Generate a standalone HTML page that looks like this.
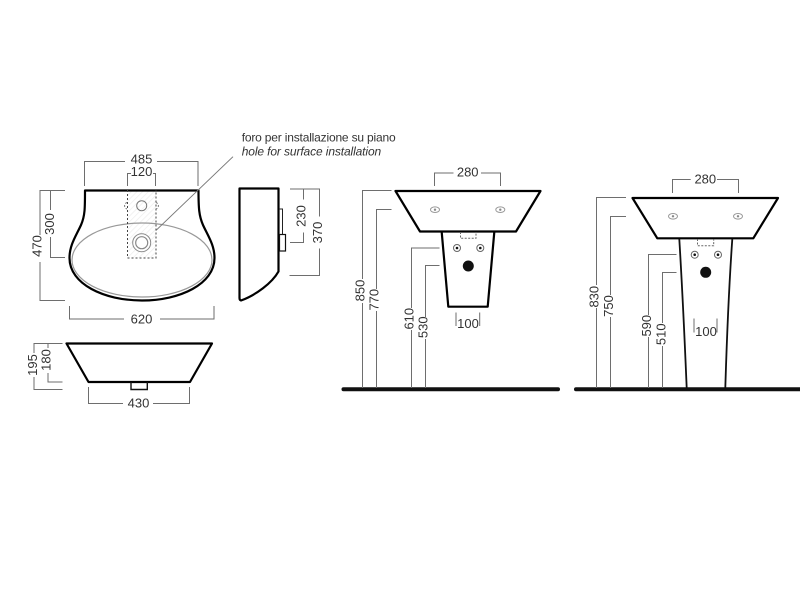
<!DOCTYPE html>
<html>
<head>
<meta charset="utf-8">
<style>
html,body{margin:0;padding:0;background:#fff;width:800px;height:600px;overflow:hidden}
svg{display:block;filter:blur(0.35px)}
text{font-family:"Liberation Sans",sans-serif;font-size:13px;fill:#333}
.n{font-size:12px}
.d{fill:none;stroke:#6e6e6e;stroke-width:1}
.k{fill:none;stroke:#000;stroke-width:2.2;stroke-linejoin:round;stroke-linecap:round}
.t{fill:none;stroke:#222;stroke-width:1}
.g{fill:none;stroke:#999;stroke-width:1}
.c{text-anchor:middle}
</style>
</head>
<body>
<svg width="800" height="600" viewBox="0 0 800 600" xmlns="http://www.w3.org/2000/svg">
<defs>
<pattern id="h" width="4" height="4" patternUnits="userSpaceOnUse" patternTransform="rotate(45)">
<line x1="0" y1="0" x2="0" y2="4" stroke="#ececec" stroke-width="1.4"/>
</pattern>
</defs>

<!-- top view -->
<rect x="127.5" y="190" width="28.5" height="68" fill="url(#h)"/>
<ellipse cx="142" cy="260" rx="70" ry="37" fill="none" stroke="#999" stroke-width="1.2"/>
<path class="k" d="M85 190.500H198.500C198.500 208 199 216 203 225C208 236 214.500 245 214.500 258C214.500 284 180 300.500 142 300.500C104 300.500 69.500 284 69.500 258C69.500 245 76 236 81 225C85 216 85 208 85 190.500Z"/>
<path d="M127.500 190V258H156V190" fill="none" stroke="#444" stroke-width="1" stroke-dasharray="2 2"/>
<circle cx="141.700" cy="205.700" r="5" fill="none" stroke="#777"/>
<circle cx="141.700" cy="242.700" r="9" fill="#fff" stroke="#888" stroke-width="1"/>
<circle cx="141.700" cy="242.700" r="6" fill="none" stroke="#888" stroke-width="1.200"/>
<path d="M127 202.500A3.400 3.400 0 0 0 127 209M156 202.500A3.400 3.400 0 0 1 156 209" fill="none" stroke="#777" stroke-dasharray="2 1.500"/>
<line x1="155.700" y1="230.700" x2="233" y2="156.700" stroke="#777" stroke-width="1"/>

<text x="241.700" y="141.500" textLength="154" lengthAdjust="spacing" class="n">foro per installazione su piano</text>
<text x="241.700" y="155.500" textLength="139.500" lengthAdjust="spacing" font-style="italic" class="n">hole for surface installation</text>

<path class="d" d="M84.500 186V161.500H125M157 161.500H198V186"/>
<path class="d" d="M127.500 186V173.500H131M153 173.500H155.500V186"/>
<text x="141.500" y="163.500" class="c">485</text>
<text x="141.500" y="176" class="c">120</text>

<path class="d" d="M65 190.500H40V235M40 262V300.500H65"/>
<path class="d" d="M65 190.500H50.500V210M50.500 237V257.500H65"/>
<text transform="translate(41.500 246) rotate(-90)" class="c">470</text>
<text transform="translate(54 224) rotate(-90)" class="c">300</text>

<path class="d" d="M69.500 306V319H124M160 319H214V306"/>
<text x="141.500" y="323.500" class="c">620</text>

<!-- front view small -->
<path class="k" d="M66.500 343.500H212L190 382H88.500Z"/>
<path d="M131 382V389.500H147.300V382" fill="none" stroke="#111" stroke-width="1.400"/>
<path class="d" d="M62.500 343.500H34V353M34 377V389.500H62.500"/>
<path class="d" d="M62.500 343.500H48V348M48 373V382H62.500"/>
<text transform="translate(37 365) rotate(-90)" class="c">195</text>
<text transform="translate(50.500 360) rotate(-90)" class="c">180</text>
<path class="d" d="M88.500 387V403.500H123M153 403.500H189.500V387"/>
<text x="138.500" y="407.500" class="c">430</text>

<!-- side view -->
<path class="k" d="M239.500 188.500H278.500V271.500C272 283 256 295 241 300.500Q239.500 300 239.500 298Z"/>
<path class="t" d="M279 209H282.500V234.500"/>
<rect x="279.500" y="234.500" width="6" height="16.500" fill="#fff" stroke="#111" stroke-width="1.200"/>
<path class="d" d="M290 189H319.500V216.500M319.500 248.500V275.500H289.500"/>
<path class="d" d="M303.500 189V199.500M303.500 232.500V242.500H290"/>
<text transform="translate(305.500 216) rotate(-90)" class="c">230</text>
<text transform="translate(322 232.500) rotate(-90)" class="c">370</text>

<!-- half pedestal -->
<path class="k" d="M395.500 191H540.500L516 231.500H420Z"/>
<path class="k" d="M441.700 232L448.300 306.700H487.700L494.300 232"/>
<path d="M460.500 232V238.300H476V232" fill="none" stroke="#666" stroke-dasharray="2 1.500"/>
<ellipse cx="435" cy="209.700" rx="4.500" ry="2.800" fill="none" stroke="#999"/>
<circle cx="435" cy="209.700" r="1.200" fill="#888"/>
<ellipse cx="500.300" cy="209.700" rx="4.500" ry="2.800" fill="none" stroke="#999"/>
<circle cx="500.300" cy="209.700" r="1.200" fill="#888"/>
<circle cx="457" cy="248" r="3.500" fill="#fff" stroke="#666"/><circle cx="457" cy="248" r="1.300" fill="#111"/>
<circle cx="480.300" cy="248" r="3.500" fill="#fff" stroke="#666"/><circle cx="480.300" cy="248" r="1.300" fill="#111"/>
<circle cx="468.300" cy="266" r="5.500" fill="#111"/>
<path d="M343.500 389.300H558" stroke="#111" stroke-width="4" stroke-linecap="round" fill="none"/>
<path class="d" d="M434.500 186V173H453.500M481 173H500.500V186"/>
<text x="467.700" y="176.500" class="c">280</text>
<path class="d" d="M391.500 190.500H362.500V279M362.500 303V388"/>
<path class="d" d="M391.500 209.500H376.500V289M376.500 311V388"/>
<path class="d" d="M439.500 248H411.500V308M411.500 330V388"/>
<path class="d" d="M439.500 265.500H425.500V317M425.500 339V388"/>
<text transform="translate(364.500 290.500) rotate(-90)" class="c">850</text>
<text transform="translate(378.500 299.700) rotate(-90)" class="c">770</text>
<text transform="translate(413.500 318.700) rotate(-90)" class="c">610</text>
<text transform="translate(427.500 327.300) rotate(-90)" class="c">530</text>
<path class="d" d="M456 312.500V326M479.700 312.500V326"/>
<text x="468" y="328" class="c">100</text>

<!-- full pedestal -->
<path class="k" d="M632.500 198H778L753.300 238.300H657.300Z"/>
<path d="M679.300 239Q683 300 686.700 388M732.300 239Q728 300 725.300 388" fill="none" stroke="#111" stroke-width="1.800"/>
<path d="M697.500 239V245.700H713.700V239" fill="none" stroke="#666" stroke-dasharray="2 1.500"/>
<ellipse cx="673" cy="216.300" rx="4.500" ry="2.800" fill="none" stroke="#999"/>
<circle cx="673" cy="216.300" r="1.200" fill="#888"/>
<ellipse cx="738" cy="216.300" rx="4.500" ry="2.800" fill="none" stroke="#999"/>
<circle cx="738" cy="216.300" r="1.200" fill="#888"/>
<circle cx="694.700" cy="254.700" r="3.500" fill="#fff" stroke="#666"/><circle cx="694.700" cy="254.700" r="1.300" fill="#111"/>
<circle cx="718" cy="254.700" r="3.500" fill="#fff" stroke="#666"/><circle cx="718" cy="254.700" r="1.300" fill="#111"/>
<circle cx="705.700" cy="272.300" r="5.500" fill="#111"/>
<path d="M576 389.300H800" stroke="#111" stroke-width="4" stroke-linecap="round" fill="none"/>
<path class="d" d="M672.500 193V179.500H690.700M717 179.500H738.500V193"/>
<text x="705.300" y="183.500" class="c">280</text>
<path class="d" d="M626 197.500H596.500V285M596.500 308V388"/>
<path class="d" d="M626 216.500H610.500V295M610.500 317V388"/>
<path class="d" d="M676.500 254.500H648.500V315M648.500 337V388"/>
<path class="d" d="M676.500 272.500H662.500V323M662.500 346V388"/>
<text transform="translate(598.500 296.700) rotate(-90)" class="c">830</text>
<text transform="translate(613 306) rotate(-90)" class="c">750</text>
<text transform="translate(651 325.700) rotate(-90)" class="c">590</text>
<text transform="translate(665.500 334.300) rotate(-90)" class="c">510</text>
<path class="d" d="M694 318.500V332.500M717 318.500V332.500"/>
<text x="706" y="336" class="c">100</text>
</svg>
</body>
</html>
